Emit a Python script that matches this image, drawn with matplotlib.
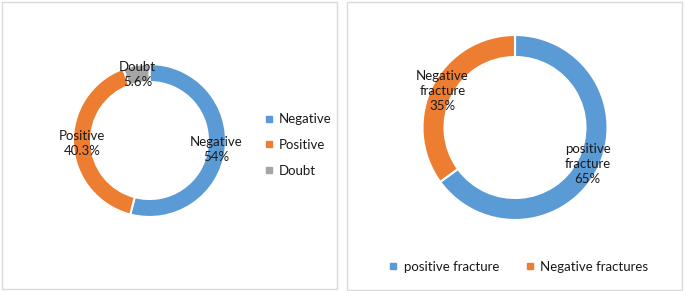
import matplotlib.pyplot as plt
from matplotlib.patches import Rectangle
from matplotlib.lines import Line2D

# ---- data ----
left_labels = ['Negative', 'Positive', 'Doubt']
left_values = [54, 40.3, 5.6]
left_texts = ['Negative\n54%', 'Positive\n40.3%', 'Doubt\n5.6%']

right_labels = ['positive fracture', 'Negative fractures']
right_values = [65, 35]
right_texts = ['positive\nfracture\n65%', 'Negative\nfracture\n35%']

colors = ['#5B9BD5', '#ED7D31', '#A5A5A5']
W, H = 685, 291

plt.rcParams['font.family'] = ['Lato', 'DejaVu Sans']

fig = plt.figure(figsize=(W / 100, H / 100), dpi=100)
ax = fig.add_axes([0, 0, 1, 1])

# panel borders (pixel coords, y measured from top)
for x0, y0, x1, y1 in [(2, 2, 337, 289), (347, 2, 682, 290)]:
    ax.add_patch(Rectangle((x0, H - y1), x1 - x0, y1 - y0, fill=False,
                           edgecolor='#D9D9D9', linewidth=1))

def donut(vals, texts, cx, cy, r, width):
    wedges, tx = ax.pie(vals, labels=texts, colors=colors[:len(vals)],
                        center=(cx, H - cy), radius=r, startangle=90,
                        counterclock=False, labeldistance=0.88,
                        wedgeprops=dict(width=width, edgecolor='white', linewidth=1.5),
                        textprops=dict(fontsize=9.5, color='#1a1a1a'),
                        frame=True)
    for t in tx:
        t.set_ha('center')
        t.set_va('center')
        t.set_linespacing(1.3)
    return wedges

donut(left_values, left_texts, 149.5, 140.5, 76.5, 18)
donut(right_values, right_texts, 515, 127.5, 92.5, 22)
ax.set_xlim(0, W)
ax.set_ylim(0, H)
ax.set_aspect('equal')
ax.axis('off')

def handles(n):
    return [Line2D([], [], linestyle='none', marker='s', markersize=5,
                   markerfacecolor=c, markeredgecolor=c) for c in colors[:n]]

leg1 = ax.legend(handles(3), left_labels, loc='center left',
                 bbox_to_anchor=(258, H - 145), bbox_transform=ax.transData,
                 frameon=False, fontsize=9.5, handlelength=0.6, handletextpad=0.5,
                 labelspacing=1.05, borderpad=0, labelcolor='#1a1a1a')
ax.add_artist(leg1)
ax.legend(handles(2), right_labels, loc='center', ncol=2,
          bbox_to_anchor=(519, H - 267), bbox_transform=ax.transData,
          frameon=False, fontsize=9.5, handlelength=0.6, handletextpad=0.5,
          columnspacing=2.0, borderpad=0, labelcolor='#1a1a1a')

fig.savefig('out.png', dpi=100)
